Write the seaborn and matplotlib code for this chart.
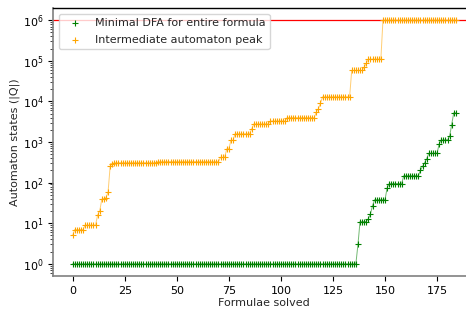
import numpy as np
import pandas as pd
import matplotlib
matplotlib.use("Agg")
import matplotlib.pyplot as plt
import seaborn as sns

# Values (run-length: level, number of consecutive formulae)
dfa_levels = [1, 3, 11, 13, 17, 27, 38, 74, 95, 148, 200, 250, 308, 385, 530, 905, 1130, 1370, 2650, 5250]
dfa_counts = [137, 1, 4, 1, 1, 1, 6, 1, 7, 8, 1, 1, 1, 1, 5, 1, 4, 1, 1, 2]

peak_levels = [5, 7, 9, 16, 20, 39, 43, 58, 250, 290, 310, 330, 420, 680, 1100, 1600, 2100, 2800,
               3300, 4000, 5500, 6600, 9000, 13000, 58000, 70000, 88000, 110000, 1000000]
peak_counts = [1, 5, 6, 1, 1, 2, 1, 1, 1, 1, 21, 30, 3, 2, 2, 8, 1, 8,
               8, 14, 1, 1, 1, 14, 6, 1, 1, 7, 36]

limit_value = 1e6
label_dfa = "Minimal DFA for entire formula"
label_peak = "Intermediate automaton peak"

dfa = np.repeat(dfa_levels, dfa_counts)
peak = np.repeat(peak_levels, peak_counts)
solved = np.arange(len(dfa))
df = pd.DataFrame({"solved": solved, "dfa": dfa, "peak": peak})

sns.set_style("ticks")
plt.rcParams['font.family'] = ['DejaVu Sans']
fig = plt.figure(figsize=(4.66, 3.09), dpi=100)
ax = fig.add_axes([0.1148, 0.1068, 0.9045, 0.867])

ax.axhline(limit_value, color="red", lw=0.9, zorder=1)

sns.lineplot(data=df, x="solved", y="dfa", color="green", lw=0.7, alpha=0.55, ax=ax, legend=False)
sns.lineplot(data=df, x="solved", y="peak", color="orange", lw=0.7, alpha=0.55, ax=ax, legend=False)
sns.scatterplot(data=df, x="solved", y="dfa", color="green", marker="+", s=18, linewidth=0.8,
                label=label_dfa, ax=ax, zorder=3)
sns.scatterplot(data=df, x="solved", y="peak", color="orange", marker="+", s=18, linewidth=0.8,
                label=label_peak, ax=ax, zorder=3)

ax.set_yscale("log")
ax.set_xlabel("Formulae solved", fontsize=8, labelpad=2)
ax.set_ylabel("Automaton states (|Q|)", fontsize=8, labelpad=2)
ax.tick_params(labelsize=8, colors="black")
ax.set_xticks([0, 25, 50, 75, 100, 125, 150, 175])

for side in ["left", "bottom"]:
    ax.spines[side].set_color("#808080")
    ax.spines[side].set_linewidth(1.2)
ax.spines["top"].set_visible(True)
ax.spines["top"].set_color("black")
ax.spines["top"].set_linewidth(1.0)
ax.spines["right"].set_visible(False)

leg = ax.legend(loc="upper left", fontsize=8, frameon=True, labelspacing=0.6)
leg.get_frame().set_edgecolor("#cccccc")

fig.savefig("out.png", dpi=100)
